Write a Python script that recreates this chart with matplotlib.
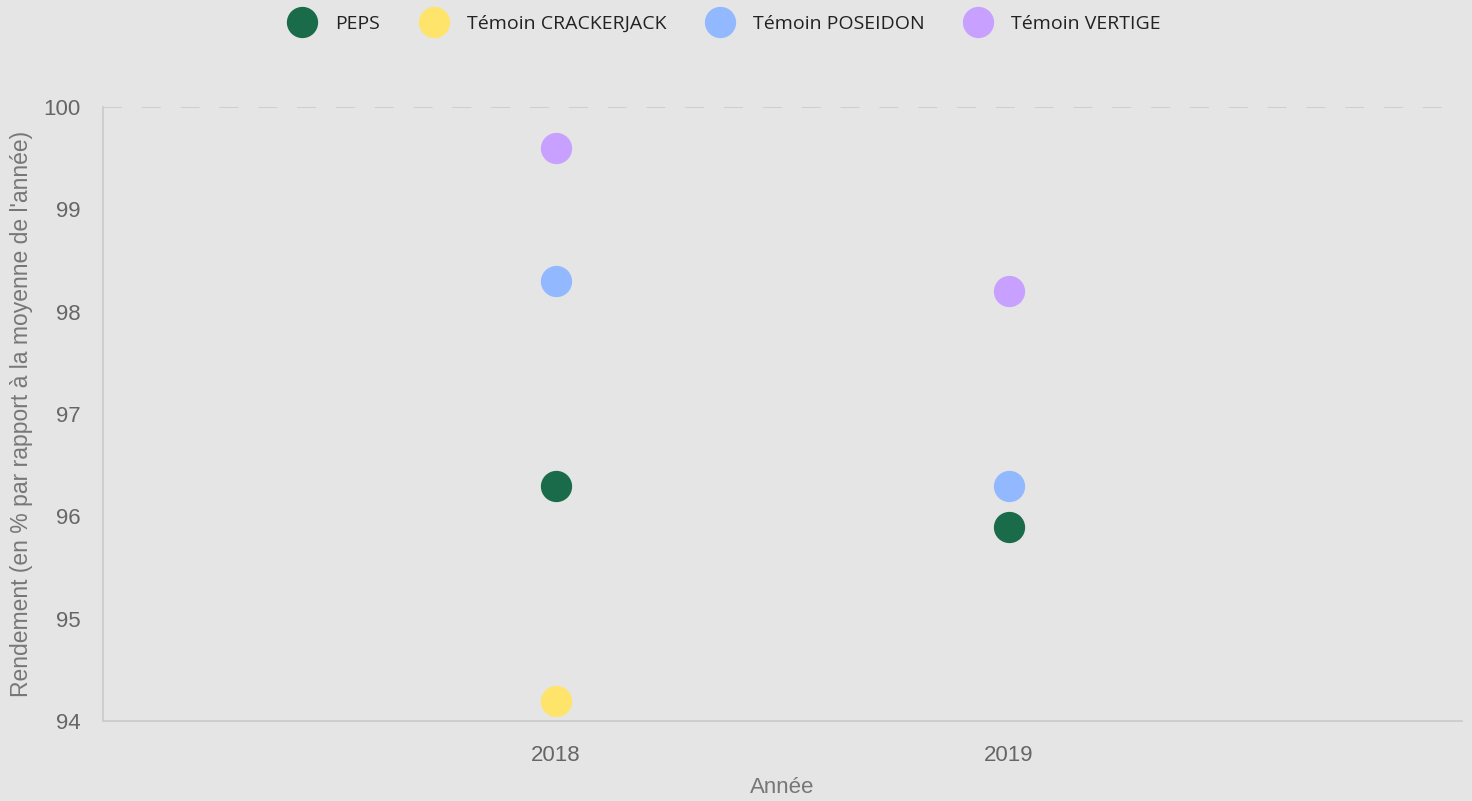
import matplotlib.pyplot as plt

# Rendement par année (en % par rapport à la moyenne de l'année)
annees = ["2018", "2019"]
series = ["PEPS", "Témoin CRACKERJACK", "Témoin POSEIDON", "Témoin VERTIGE"]
peps = [96.3, 95.9]
crackerjack = [94.2, None]
poseidon = [98.3, 96.3]
vertige = [99.6, 98.2]
couleurs = ["#196b4a", "#ffe46b", "#92b8ff", "#c8a0ff"]

valeurs = [peps, crackerjack, poseidon, vertige]

fig = plt.figure(figsize=(14.72, 8.01), dpi=100, facecolor="#e5e5e5")
ax = fig.add_axes([0.07, 0.0999, 0.9233, 0.7665])
ax.set_facecolor("#e5e5e5")

for nom, vals, c in zip(series, valeurs, couleurs):
    xs = [i for i, v in enumerate(vals) if v is not None]
    ys = [v for v in vals if v is not None]
    ax.plot(xs, ys, linestyle="none", marker="o", markersize=21.5,
            markerfacecolor=c, markeredgecolor=c, label=nom, zorder=3)

ax.set_xlim(-1, 2)
ax.set_ylim(94, 100)
ax.set_xticks(range(len(annees)))
ax.set_xticklabels(annees)
ax.set_yticks(range(94, 101))

# ligne pointillée en haut de l'axe
ax.axhline(100, color="#cccccc", linestyle=(0, (10.5, 11)), linewidth=1.3, zorder=1)

for s in ["top", "right"]:
    ax.spines[s].set_visible(False)
for s in ["left", "bottom"]:
    ax.spines[s].set_color("#cccccc")
    ax.spines[s].set_linewidth(1.3)

ax.tick_params(length=0, labelsize=16, labelcolor="#666666")
ax.tick_params(axis="y", pad=16)
ax.tick_params(axis="x", pad=17)
for lab in ax.get_xticklabels() + ax.get_yticklabels():
    lab.set_family("Liberation Sans")

ax.set_xlabel("Année", fontsize=16, color="#777777", family="Liberation Sans")
ax.set_ylabel("Rendement (en % par rapport à la moyenne de l'année)", fontsize=16.5,
              color="#777777", family="Liberation Sans")
ax.xaxis.set_label_coords(0.5, -0.092)
ax.yaxis.set_label_coords(-0.0515, 0.5)

fig.legend(loc="upper center", bbox_to_anchor=(0.493, 1.003), ncol=4, frameon=False,
           prop={"family": "Open Sans", "size": 14}, labelcolor="#222222",
           markerscale=1.0, handletextpad=1.1, columnspacing=2.15, handlelength=1.2)

fig.savefig("out.png", dpi=100, facecolor="#e5e5e5")
